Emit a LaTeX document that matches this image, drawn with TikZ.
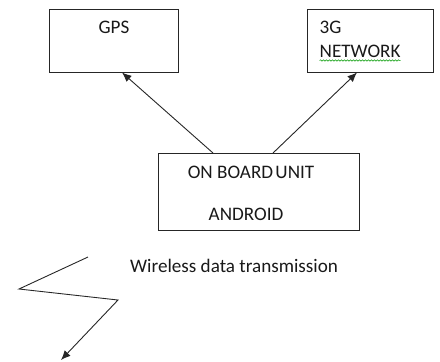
\documentclass[tikz,border=0pt]{standalone}
\usepackage{fontspec}
\setmainfont{Carlito}
\usetikzlibrary{arrows.meta,decorations.pathmorphing}
\begin{document}
\begin{tikzpicture}[x=1bp,y=-1bp,
  blockbox/.style={draw=black!85,line width=1bp},
  label/.style={font=\fontsize{19.2}{22}\selectfont,inner sep=0pt,text=black!90},
  link/.style={draw=black!85,line width=0.9bp,-{Latex[length=9.5bp,width=8bp]}},
  squiggle/.style={draw=green!60!black,line width=0.5bp,decorate,
    decoration={snake,amplitude=0.7bp,segment length=3bp}}]
  \useasboundingbox (0,0) rectangle (440,361);
  % three blocks
  \node[blockbox,minimum width=129bp,minimum height=63bp,inner sep=0pt] (gps) at (113.5,40.5) {};
  \node[blockbox,minimum width=126bp,minimum height=63bp,inner sep=0pt] (net) at (370,40.5) {};
  \node[blockbox,minimum width=201bp,minimum height=77bp,inner sep=0pt] (obu) at (258.5,191.5) {};
  % block texts
  \node[label,anchor=base] (gpst) at (114,33.5) {GPS};
  \node[label,anchor=base west] (net1) at (319.5,33) {3G};
  \node[label,anchor=base west] (net2) at (319.5,57) {NETWORK};
  \draw[squiggle] ([yshift=-3.5bp]net2.base west) -- ([yshift=-3.5bp]net2.base east);
  \node[label,anchor=base] (obu1) at (251,178) {ON BOARD\hspace{-2bp} UNIT};
  \node[label,anchor=base] (obu2) at (246,220.5) {ANDROID};
  % links from the on-board unit
  \coordinate (a1) at (213,153);
  \coordinate (a2) at (273,153);
  \coordinate (g1) at (122,72.5);
  \coordinate (n1) at (357,72.5);
  \draw[link] (a1) -- (g1);
  \draw[link] (a2) -- (n1);
  % wireless lightning arrow
  \node[label,anchor=base west] (wl) at (130,272) {Wireless data transmission};
  \coordinate (z0) at (88,257);
  \coordinate (z1) at (19,289);
  \coordinate (z2) at (118,300);
  \coordinate (z3) at (61,360);
  \draw[link] (z0) -- (z1) -- (z2) -- (z3);
\end{tikzpicture}
\end{document}
